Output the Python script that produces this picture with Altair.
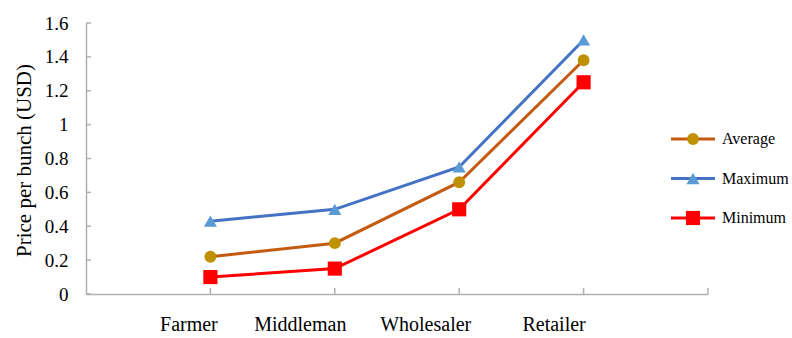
import altair as alt
import pandas as pd

categories = ["Farmer", "Middleman", "Wholesaler", "Retailer"]
series = ["Average", "Maximum", "Minimum"]
average = [0.22, 0.30, 0.66, 1.38]
maximum = [0.43, 0.50, 0.75, 1.50]
minimum = [0.10, 0.15, 0.50, 1.25]
y_ticks = [0, 0.2, 0.4, 0.6, 0.8, 1.0, 1.2, 1.4, 1.6]

line_colors = ["#C55A11", "#4472C4", "#FF0000"]
point_colors = ["#BF9000", "#5B9BD5", "#FF0000"]
shapes = ["circle", "triangle-up", "square"]
widths = [3, 3, 2]
sizes = [140, 200, 120]

rows = []
for s, vals in zip(series, [average, maximum, minimum]):
    for i, (c, v) in enumerate(zip(categories, vals)):
        rows.append({"series": s, "category": c, "pos": i + 1, "value": v})
df = pd.DataFrame(rows)
tick_df = pd.DataFrame({"value": y_ticks})
xtick_df = pd.DataFrame({"pos": list(range(1, len(categories) + 2))})
leg_df = pd.DataFrame({"series": series})

W, H = 622, 271
GRAY = "#B0B0B0"
FONT = "Liberation Serif"

label_expr = "[''," + ",".join("'%s'" % c for c in categories) + "][datum.value]"
offset_expr = "datum.value == 1 ? -22 : datum.value == 2 ? -35 : datum.value == 3 ? -34 : -30"

x_enc = alt.X(
    "pos:Q",
    scale=alt.Scale(domain=[0, 5], nice=False, zero=False),
    axis=alt.Axis(
        values=[1, 2, 3, 4], labelExpr=label_expr, title=None, grid=False,
        ticks=False, domainColor=GRAY, domainWidth=1.5, labelFont=FONT,
        labelFontSize=20, labelColor="#000", labelPadding=20, labelBaseline="top",
        labelOffset={"expr": offset_expr},
    ),
)
y_enc = alt.Y(
    "value:Q",
    scale=alt.Scale(domain=[0, 1.6], nice=False),
    axis=alt.Axis(
        values=y_ticks, format="~g", title="Price per bunch (USD)", grid=False,
        ticks=False, domainColor=GRAY, domainWidth=1.5, labelFont=FONT,
        labelFontSize=19, labelColor="#000", labelPadding=18,
        titleFont=FONT, titleFontSize=21, titleFontWeight="normal", titleColor="#000",
        titleX=-62, titleY=137, titleBaseline="middle", titleAlign="center", titleAngle=-90,
    ),
)

stroke_scale = alt.Scale(domain=series, range=line_colors)
fill_scale = alt.Scale(domain=series, range=point_colors)
shape_scale = alt.Scale(domain=series, range=shapes)
sw_scale = alt.Scale(domain=series, range=widths)
size_scale = alt.Scale(domain=series, range=sizes)

lines = alt.Chart(df).mark_line().encode(
    x=x_enc, y=y_enc,
    stroke=alt.Stroke("series:N", scale=stroke_scale, legend=None),
    strokeWidth=alt.StrokeWidth("series:N", scale=sw_scale, legend=None),
    detail="series:N",
)
points = alt.Chart(df).mark_point(filled=True, opacity=1, strokeWidth=0).encode(
    x=x_enc, y=y_enc,
    fill=alt.Fill("series:N", scale=fill_scale, legend=None),
    shape=alt.Shape("series:N", scale=shape_scale, legend=None),
    size=alt.Size("series:N", scale=size_scale, legend=None),
)
yticks = alt.Chart(tick_df).mark_rule(color=GRAY, strokeWidth=1.5).encode(
    y=y_enc, x=alt.value(0), x2=alt.value(5)
)
xticks = alt.Chart(xtick_df).mark_rule(color=GRAY, strokeWidth=1.5).encode(
    x=x_enc, y=alt.value(H - 6), y2=alt.value(H)
)
main = alt.layer(lines, points, yticks, xticks)

leg_y = alt.Y("series:N", scale=alt.Scale(type="point", domain=series, range=[116, 195], padding=0), axis=None)
leg_rule = alt.Chart(leg_df).mark_rule().encode(
    x=alt.value(585), x2=alt.value(629), y=leg_y,
    stroke=alt.Stroke("series:N", scale=stroke_scale, legend=None),
    strokeWidth=alt.StrokeWidth("series:N", scale=sw_scale, legend=None),
)
leg_pt = alt.Chart(leg_df).mark_point(filled=True, opacity=1, strokeWidth=0).encode(
    x=alt.value(607), y=leg_y,
    fill=alt.Fill("series:N", scale=fill_scale, legend=None),
    shape=alt.Shape("series:N", scale=shape_scale, legend=None),
    size=alt.Size("series:N", scale=size_scale, legend=None),
)
leg_txt = alt.Chart(leg_df).mark_text(
    align="left", baseline="middle", font=FONT, fontSize=16, color="#000"
).encode(x=alt.value(636), y=leg_y, text="series:N")
legend = alt.layer(leg_rule, leg_pt, leg_txt)

chart = alt.layer(main, legend).resolve_scale(y="independent").properties(
    width=W, height=H,
    padding={"left": 86, "top": 23, "right": 84, "bottom": 44},
    autosize=alt.AutoSizeParams(type="none"),
    background="white",
).configure(font=FONT).configure_axis(
    labelFont=FONT, titleFont=FONT
).configure_text(font=FONT).configure_view(stroke=None)

chart.save("out.html", embed_options={"renderer": "svg", "actions": False})
